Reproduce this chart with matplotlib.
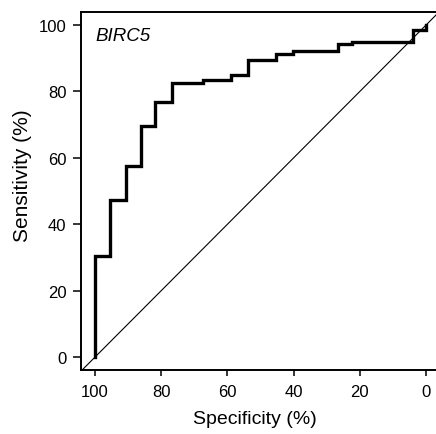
import matplotlib.pyplot as plt

plt.rcParams['font.family'] = ['Liberation Sans', 'DejaVu Sans']

# ROC step curve
spec = [100, 100, 95.5, 95.5, 90.6, 90.6, 86.0, 86.0, 81.8, 81.8, 76.7, 76.7,
        67.3, 67.3, 58.8, 58.8, 53.9, 53.9, 45.2, 45.2, 40.3, 40.3, 26.7, 26.7,
        22.4, 22.4, 3.9, 3.9, 0, 0]
sens = [0, 30.4, 30.4, 47.3, 47.3, 57.5, 57.5, 69.6, 69.6, 76.8, 76.8, 82.5,
        82.5, 83.4, 83.4, 84.9, 84.9, 89.5, 89.5, 91.3, 91.3, 92.2, 92.2, 94.3,
        94.3, 94.9, 94.9, 98.6, 98.6, 100]
ref_x = [104, -4]
ref_y = [-4, 104]
ticks = [100, 80, 60, 40, 20, 0]

fig = plt.figure(figsize=(4.36, 4.35), dpi=100)
ax = fig.add_axes([0.186, 0.147, 0.814, 0.823])

ax.plot(ref_x, ref_y, color='black', lw=0.8)
ax.plot(spec, sens, color='black', lw=2.4, solid_joinstyle='miter')

ax.set_xlim(104.2, -3)
ax.set_ylim(-3.9, 103.9)
ax.set_xticks(ticks)
ax.set_yticks(ticks)
ax.tick_params(axis='x', labelsize=12, length=4, width=1.1, direction='out', pad=6)
ax.tick_params(axis='y', labelsize=12, length=6, width=1.1, direction='out', pad=4.5)

for s in ['left', 'bottom', 'top']:
    ax.spines[s].set_linewidth(1.4)
ax.spines['right'].set_visible(False)

ax.set_xlabel('Specificity (%)', fontsize=14)
ax.xaxis.set_label_coords(0.49, -0.112)
ax.set_ylabel('Sensitivity (%)', fontsize=15, va='center')
ax.yaxis.set_label_coords(-0.166, 0.547)
ax.text(100, 96.8, 'BIRC5', fontsize=13.5, style='italic', ha='left', va='center')

plt.savefig('out.png', dpi=100)
